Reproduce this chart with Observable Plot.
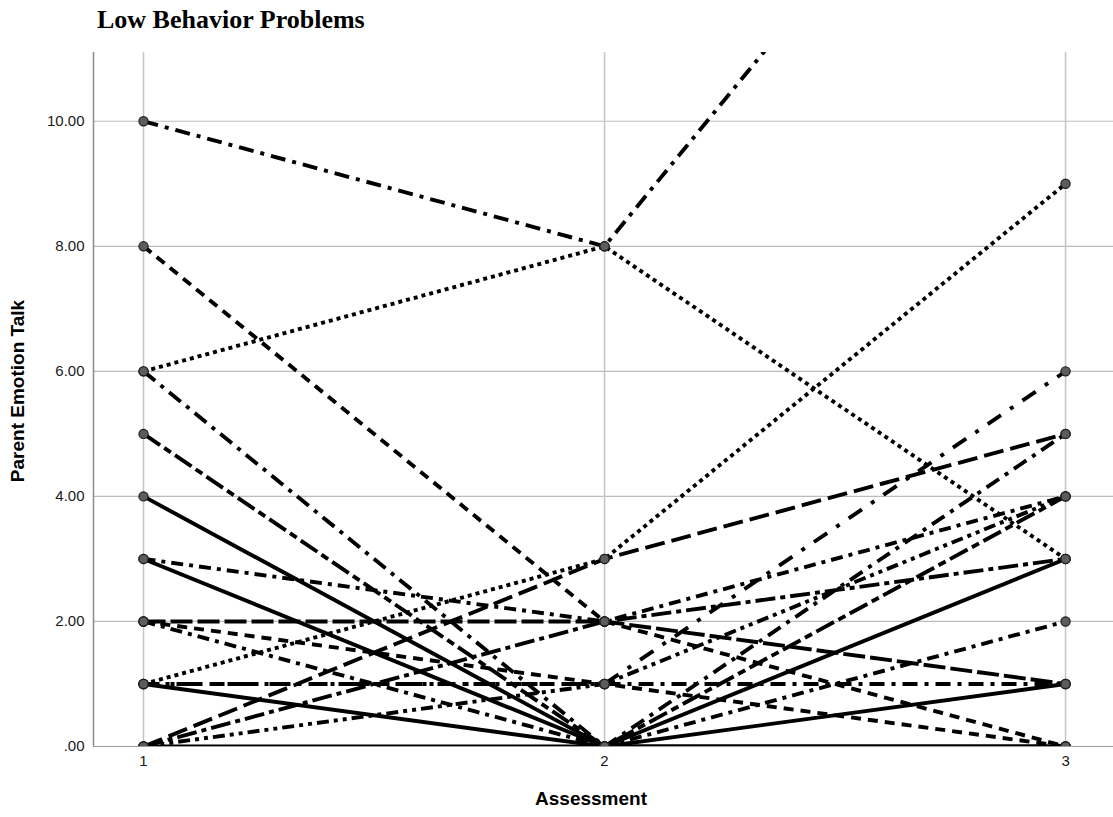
<!DOCTYPE html>
<html>
<head>
<meta charset="utf-8">
<script src="https://cdn.jsdelivr.net/npm/d3@7"></script>
<script src="https://cdn.jsdelivr.net/npm/@observablehq/plot@0.6"></script>
<style>
  body { margin: 0; background: #fff; }
  #wrap { position: relative; width: 1113px; height: 817px; overflow: hidden; }
  #title { height: 50px; box-sizing: border-box; padding: 5px 0 0 97px;
           font: bold 26px "Liberation Serif", "Times New Roman", serif; color: #000; white-space: nowrap; }
  .axlab { position: absolute; font: bold 19px "Liberation Sans", Arial, sans-serif; color: #000; white-space: nowrap; }
  #xlab { left: 591px; top: 788px; transform: translateX(-50%); }
  #ylab { left: 18px; top: 391px; transform: translate(-50%, -50%) rotate(-90deg); }
  svg { display: block; }
</style>
</head>
<body>
<div id="wrap">
  <div id="title">Low Behavior Problems</div>
  <div id="chart"></div>
  <div class="axlab" id="xlab">Assessment</div>
  <div class="axlab" id="ylab">Parent Emotion Talk</div>
</div>
<script>
// Assessments (x categories) and tick labels
const assessments = [1, 2, 3];
const xTickLabels = ["1", "2", "3"];
const yTicks = [0, 2, 4, 6, 8, 10];
const yTickLabels = [".00", "2.00", "4.00", "6.00", "8.00", "10.00"];

// Parent emotion talk per participant at each assessment
const time1 = [10, 6, 1, 0, 8, 3, 2, 0, 2, 1, 0, 1, 6, 5, 4, 3, 2, 1, 0];
const time2 = [ 8, 8, 3, 3, 2, 2, 2, 2, 1, 1, 1, 1, 0, 0, 0, 0, 0, 0, 0];
const time3 = [17, 3, 9, 5, 0, 4, 1, 3, 0, 1, 4, 6, 5, 4, 3, 1, 2, 0, 0];

// Line pattern for each participant
const lineStyles = ["dashdot", "dotted", "dotted", "longdash", "dashed", "dashdot2", "longdash2",
  "longdashdot", "dashed", "dashdot", "dashdotdot", "dashdotwide", "dashdot", "longshort",
  "solid", "solid", "dashdot2", "solid", "solid"];

const dashes = {
  solid: null,
  dotted: "4,4",
  dashed: "10,7",
  longdash: "20,7",
  longdash2: "22,5",
  dashdot: "15,7,4,7",
  dashdot2: "12,6,4,6",
  dashdotwide: "16,11,4,11",
  longdashdot: "20,5,5,5",
  dashdotdot: "12,5,4,5,4,5",
  longshort: "20,5,8,5"
};

const series = [time1, time2, time3];
const subjects = time1.map((_, i) => i);
const rows = subjects.flatMap(i => assessments.map((a, j) => ({id: i, a, v: series[j][i]})));

const xDomain = [0.8915, 3.104];
const yDomain = [0, 11.1];

const lineMarks = subjects.map(i => Plot.line(rows.filter(r => r.id === i), {
  x: "a", y: "v", stroke: "#000", strokeWidth: 3.9,
  strokeDasharray: dashes[lineStyles[i]] || undefined,
  strokeLinecap: "butt", strokeLinejoin: "miter", clip: true
}));

const chart = Plot.plot({
  width: 1113,
  height: 767,
  marginTop: 2,
  marginBottom: 71,
  marginLeft: 93,
  marginRight: 0,
  x: {domain: xDomain},
  y: {domain: yDomain},
  style: {fontFamily: "'Liberation Sans', Arial, sans-serif", fontSize: "15px", background: "#fff", overflow: "visible"},
  marks: [
    Plot.gridY(yTicks.filter(d => d > 0), {stroke: "#bcbcbc", strokeOpacity: 1, strokeWidth: 1.2}),
    Plot.gridX(assessments, {stroke: "#c4c4c4", strokeOpacity: 1, strokeWidth: 1.5}),
    Plot.ruleY([0], {stroke: "#9a9a9a", strokeWidth: 1.2}),
    Plot.ruleX([xDomain[0]], {stroke: "#8a8a8a", strokeWidth: 1.5}),
    ...lineMarks,
    Plot.dot(rows, {x: "a", y: "v", r: 4.6, fill: "#5c5c5c", stroke: "#1e1e1e", strokeWidth: 1.2, clip: true}),
    Plot.axisY(yTicks, {tickSize: 0, tickPadding: 9, label: null, fill: "#1a1a1a", fontSize: 15,
      tickFormat: d => yTickLabels[yTicks.indexOf(d)]}),
    Plot.axisX(assessments, {tickSize: 0, tickPadding: 9, label: null, fill: "#1a1a1a", fontSize: 15,
      tickFormat: d => xTickLabels[assessments.indexOf(d)]})
  ]
});
document.getElementById("chart").appendChild(chart);
</script>
</body>
</html>
